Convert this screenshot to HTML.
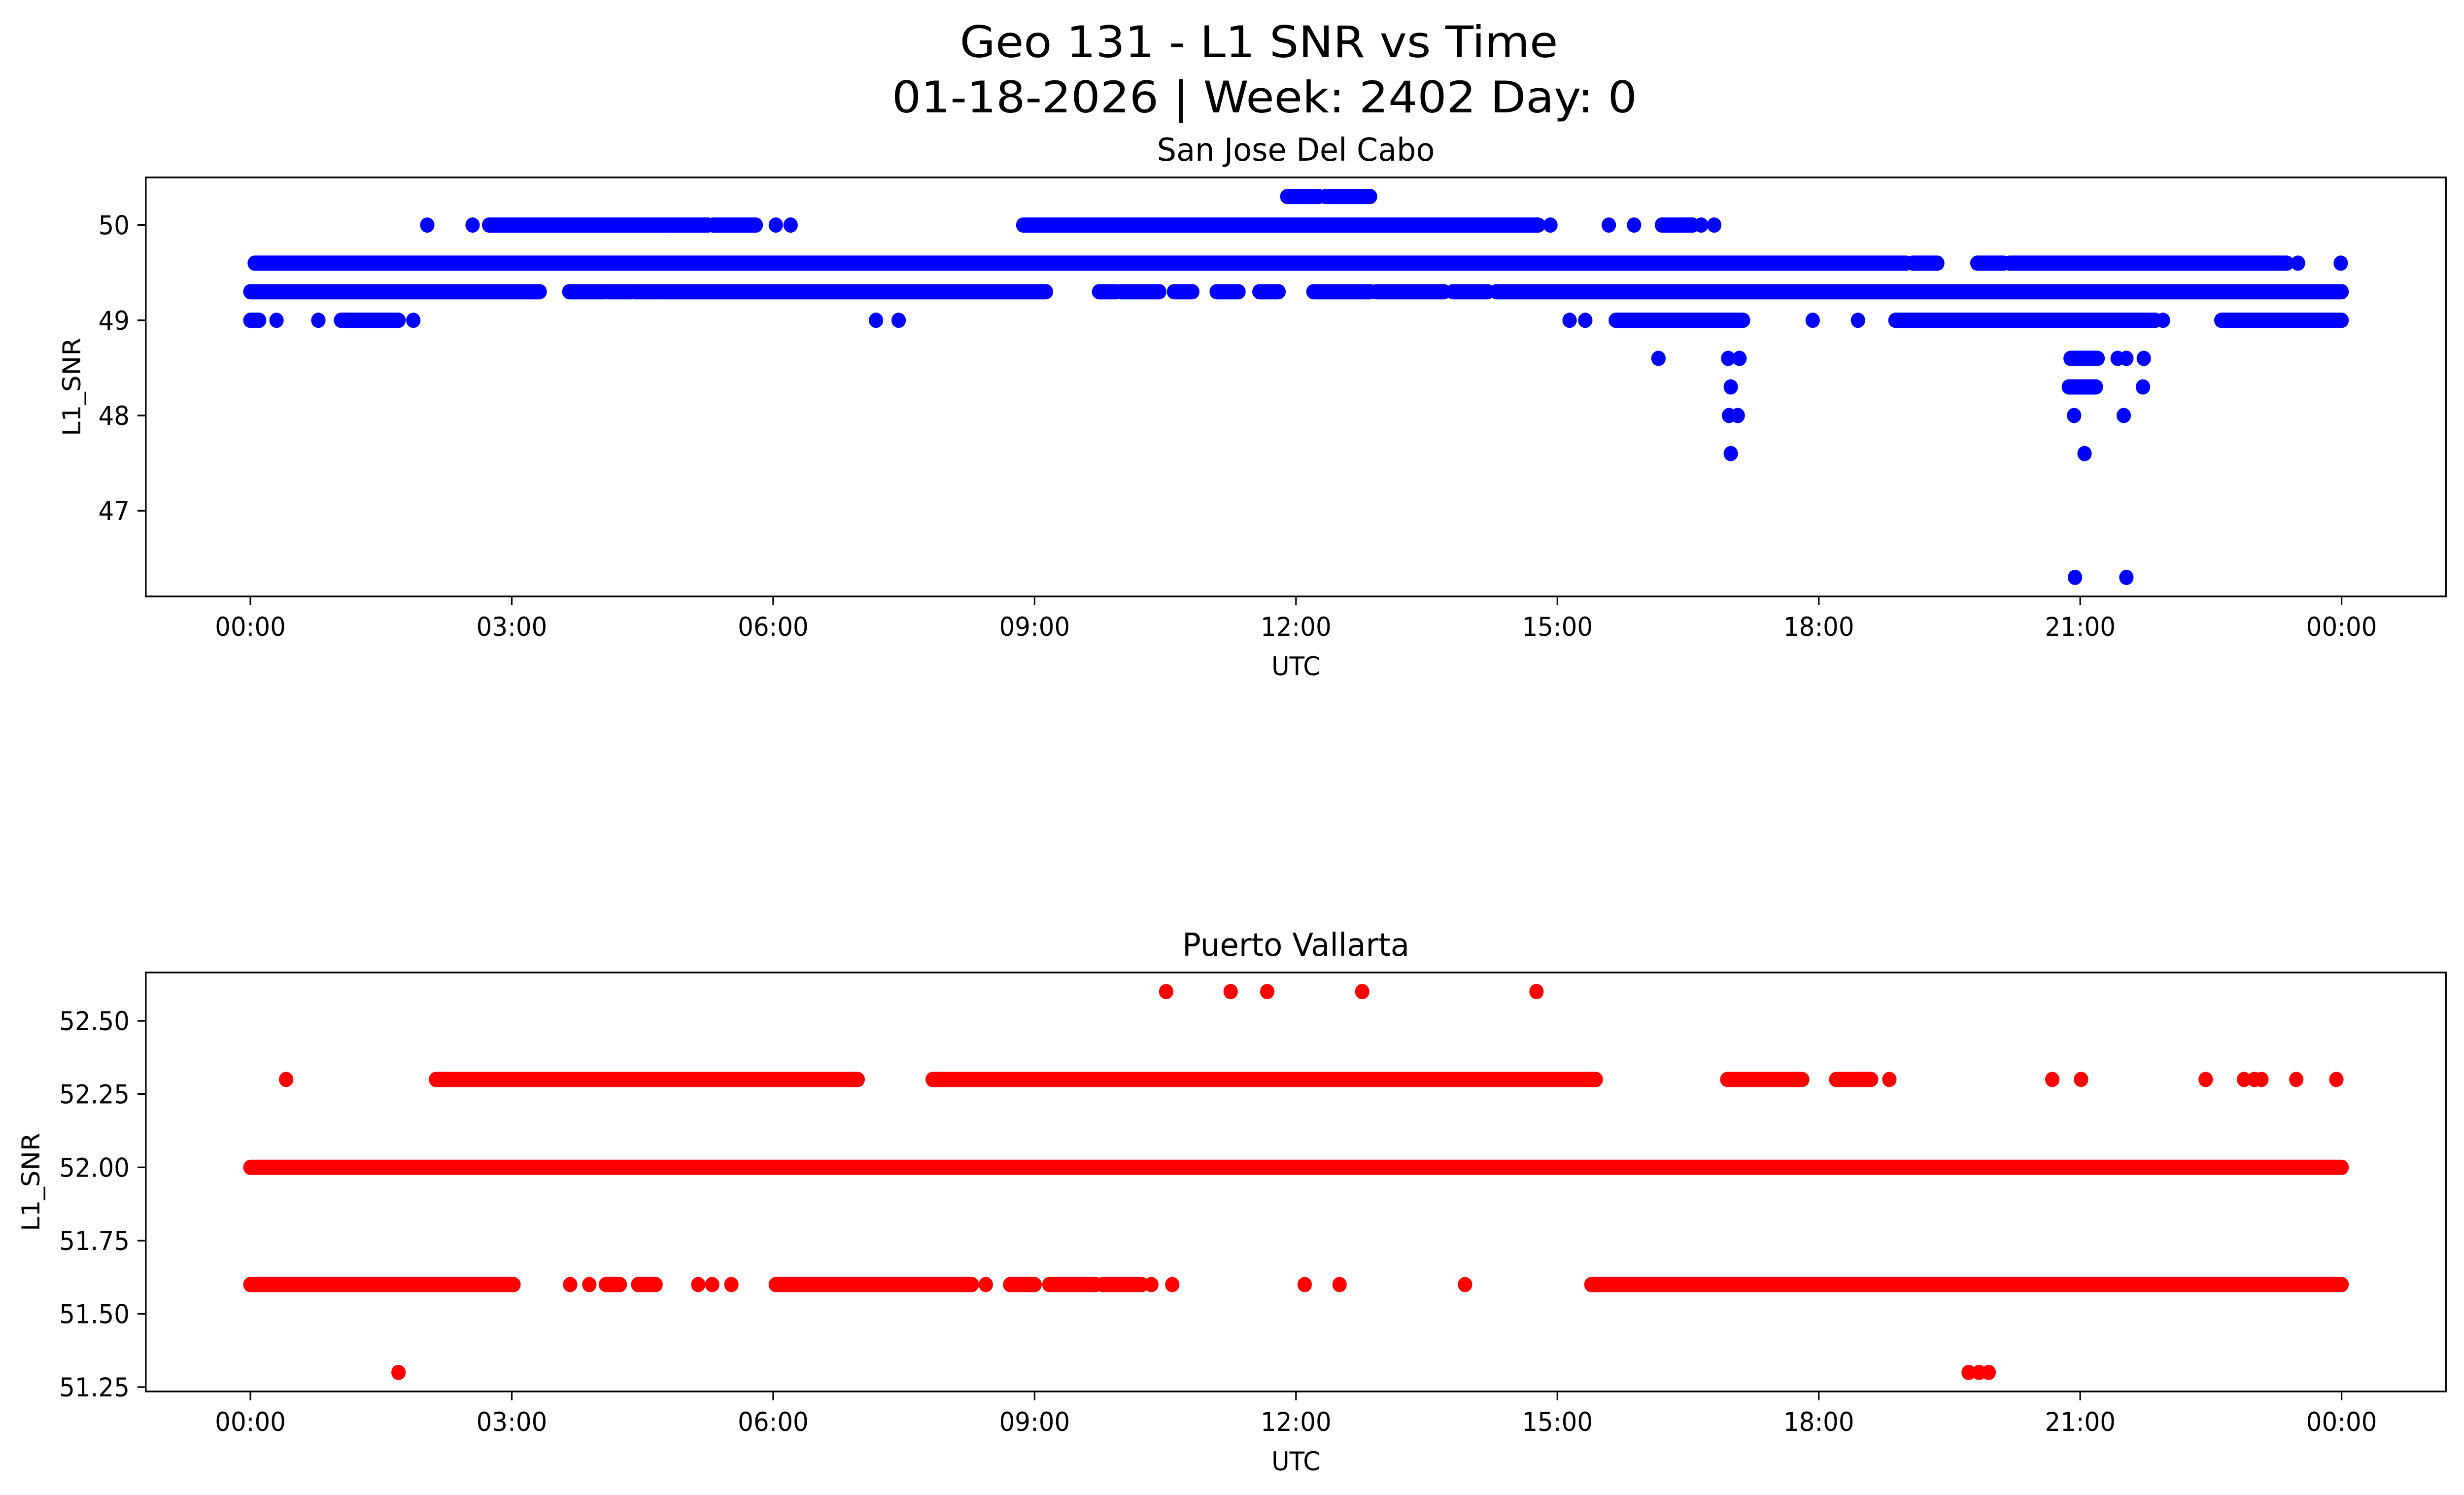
<!DOCTYPE html>
<html><head><meta charset="utf-8"><title>Geo 131 - L1 SNR vs Time</title>
<style>html,body{margin:0;padding:0;background:#fff;overflow:hidden;width:100vw;height:100vh}svg{display:block;width:100vw;height:100vh}text{font-family:"DejaVu Sans","Liberation Sans",sans-serif;fill:#000}</style>
</head><body>
<svg id="fig" xmlns="http://www.w3.org/2000/svg" viewBox="0 0 5314 3033" preserveAspectRatio="none">
<rect x="0" y="0" width="5314" height="3033" fill="#fff"/>
<text x="2715" y="116" font-size="88" text-anchor="middle" textLength="1290" lengthAdjust="spacingAndGlyphs">Geo 131 - L1 SNR vs Time</text>
<text x="2727" y="228" font-size="88" text-anchor="middle" textLength="1607" lengthAdjust="spacingAndGlyphs">01-18-2026 | Week: 2402 Day: 0</text>
</svg>
<script>
// x ticks (hours) and labels
const xTickHours = [0,3,6,9,12,15,18,21,24];
const xTickLabels = ["00:00","03:00","06:00","09:00","12:00","15:00","18:00","21:00","00:00"];

// San Jose Del Cabo
const sjTicks = [47,48,49,50];
const sjTickLabels = ["47","48","49","50"];
const sjRunStart = [0.05,19.08,19.82,20.19, 0,3.66,4.1,4.4,4.72,9.74,9.99,10.6,11.09,11.58,12.2,12.92,13.8,14.3, 0,1.04,15.67,18.88,22.62, 2.74,4.82,5.31,8.87,16.2, 11.9,12.34, 20.89, 20.87];
const sjRunEnd   = [19.0,19.36,20.12,23.37, 3.32,4.07,4.37,4.7,9.13,9.94,10.43,10.81,11.34,11.8,12.85,13.7,14.2,24.0, 0.1,1.7,17.13,21.86,24.0, 4.79,5.25,5.8,14.78,16.55, 12.26,12.85, 21.2, 21.18];
const sjRunValue = [49.6,49.6,49.6,49.6, 49.3,49.3,49.3,49.3,49.3,49.3,49.3,49.3,49.3,49.3,49.3,49.3,49.3,49.3, 49,49,49,49,49, 50,50,50,50,50, 50.3,50.3, 48.6, 48.3];
const sjPtTime  = [23.5,23.99, 0.3,0.78,1.87,7.18,7.44,15.14,15.32,17.93,18.45,21.95, 2.03,2.55,6.03,6.2,14.92,15.59,15.88,16.65,16.8, 16.16,16.96,17.09,21.43,21.53,21.73, 16.99,21.72, 16.97,17.07,20.93,21.5, 16.99,21.05, 20.94,21.53];
const sjPtValue = [49.6,49.6, 49,49,49,49,49,49,49,49,49,49, 50,50,50,50,50,50,50,50,50, 48.6,48.6,48.6,48.6,48.6,48.6, 48.3,48.3, 48,48,48,48, 47.6,47.6, 46.3,46.3];

// Puerto Vallarta
const pvTicks = [51.25,51.5,51.75,52.0,52.25,52.5];
const pvTickLabels = ["51.25","51.50","51.75","52.00","52.25","52.50"];
const pvRunStart = [2.13,7.83,16.95,18.2, 0, 0,4.08,4.45,6.03,8.72,9.17,9.78,15.39];
const pvRunEnd   = [6.97,15.44,17.81,18.6, 24, 3.02,4.24,4.65,8.28,9.0,9.7,10.23,24.0];
const pvRunValue = [52.3,52.3,52.3,52.3, 52.0, 51.6,51.6,51.6,51.6,51.6,51.6,51.6,51.6];
const pvPtTime  = [10.51,11.25,11.67,12.76,14.76, 0.41,18.81,20.68,21.01,22.44,22.88,23.0,23.08,23.48,23.94, 3.67,3.89,5.14,5.3,5.52,8.44,10.34,10.58,12.1,12.5,13.94, 1.7,19.72,19.84,19.95];
const pvPtValue = [52.6,52.6,52.6,52.6,52.6, 52.3,52.3,52.3,52.3,52.3,52.3,52.3,52.3,52.3,52.3, 51.6,51.6,51.6,51.6,51.6,51.6,51.6,51.6,51.6,51.6,51.6, 51.3,51.3,51.3,51.3];

const NS="http://www.w3.org/2000/svg";
const svg=document.getElementById('fig');
function mk(tag,attrs,parent){const e=document.createElementNS(NS,tag);for(const k in attrs)e.setAttribute(k,attrs[k]);(parent||svg).appendChild(e);return e;}

function panel(cfg){
  const L=314.5,R=5275,T=cfg.top,B=cfg.top+850;
  const xs=h=>540+(h)*(5050-540)/24;
  const ys=v=>B-(v-cfg.ymin)/(cfg.ymax-cfg.ymin)*(B-T);
  const g=mk('g',{});
  
  
  const marks=mk('g',{fill:cfg.color,stroke:cfg.color},g);
  
  
  for(let i=0;i<cfg.rs.length;i++){
    const ln=mk('line',{x1:xs(cfg.rs[i]),x2:xs(cfg.re[i]),y1:ys(cfg.rv[i]),y2:ys(cfg.rv[i]),'stroke-width':31,'stroke-linecap':'round'},marks);
    
    
  }
  for(let i=0;i<cfg.pt.length;i++){
    const c=mk('circle',{cx:xs(cfg.pt[i]),cy:ys(cfg.pv[i]),r:15.5,stroke:'none'},marks);
    
    
  }
  const fr=mk('rect',{x:L,y:T,width:R-L,height:B-T,fill:'none',stroke:'#000','stroke-width':3.4},g);
  
  
  for(let i=0;i<xTickHours.length;i++){
    const x=xs(xTickHours[i]);
    const tk=mk('line',{x1:x,x2:x,y1:B,y2:B+18,stroke:'#000','stroke-width':3.4},g);
    
    
    const t=mk('text',{x:x,y:B+80,'font-size':53,'text-anchor':'middle'},g);
    t.textContent=xTickLabels[i];
    
    
  }
  for(let i=0;i<cfg.ticks.length;i++){
    const y=ys(cfg.ticks[i]);
    const tk=mk('line',{x1:L-18,x2:L,y1:y,y2:y,stroke:'#000','stroke-width':3.4},g);
    
    
    const t=mk('text',{x:L-35,y:y+19,'font-size':53,'text-anchor':'end'},g);
    t.textContent=cfg.tickLabels[i];
    
    
  }
  const ti=mk('text',{x:(L+R)/2,y:T-34,'font-size':64,'text-anchor':'middle',textLength:cfg.titleLen,lengthAdjust:'spacingAndGlyphs'},g);
  ti.textContent=cfg.title;
  
  
  const xl=mk('text',{x:(L+R)/2,y:B+160,'font-size':53,'text-anchor':'middle'},g);
  xl.textContent='UTC';
  
  
  const yl=mk('text',{x:0,y:0,'font-size':53,'text-anchor':'middle',transform:'translate('+cfg.ylx+','+((T+B)/2)+') rotate(-90)'},g);
  yl.textContent='L1_SNR';
  
  
}
panel({name:'san-jose',top:360,ymin:46.1,ymax:50.5,color:'#0000ff',title:'San Jose Del Cabo',titleLen:599,ticks:sjTicks,tickLabels:sjTickLabels,rs:sjRunStart,re:sjRunEnd,rv:sjRunValue,pt:sjPtTime,pv:sjPtValue,ylx:173});
panel({name:'puerto-vallarta',top:1973,ymin:51.235,ymax:52.665,color:'#ff0000',title:'Puerto Vallarta',titleLen:490,ticks:pvTicks,tickLabels:pvTickLabels,rs:pvRunStart,re:pvRunEnd,rv:pvRunValue,pt:pvPtTime,pv:pvPtValue,ylx:85});
</script>
</body></html>
